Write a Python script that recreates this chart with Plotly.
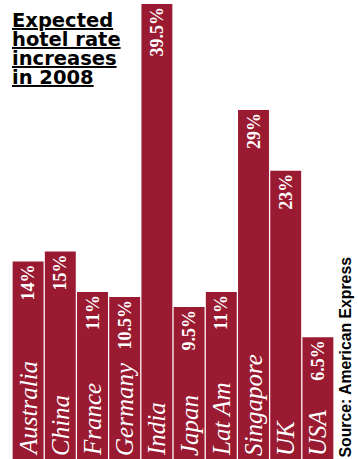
import plotly.graph_objects as go

categories = ["Australia", "China", "France", "Germany", "India", "Japan",
              "Lat Am", "Singapore", "UK", "USA"]
values = [14, 15, 11, 10.5, 39.5, 9.5, 11, 29, 23, 6.5]
value_labels = ["14%", "15%", "11%", "10.5%", "39.5%", "9.5%", "11%", "29%", "23%", "6.5%"]
title_lines = ["Expected", "hotel rate", "increases", "in 2008"]
source_text = "Source: American Express"

BAR_COLOR = "#9a1a31"
SCALE = 10.1          # px per percentage point
BASE = -56 / SCALE    # bars start below zero, as in the infographic
W, H = 358, 459
ML, MR = 12, 24

heights = [v - BASE for v in values]

fig = go.Figure()
fig.add_trace(go.Bar(
    x=categories, y=heights, base=BASE,
    marker=dict(color=BAR_COLOR, line=dict(width=0)),
    text=categories, textposition="inside", insidetextanchor="start",
    textangle=-90, constraintext="none",
    textfont=dict(family="Liberation Serif", size=25, color="white", style="italic"),
    hoverinfo="skip", showlegend=False,
))
fig.add_trace(go.Bar(
    x=categories, y=heights, base=BASE,
    marker=dict(color="rgba(0,0,0,0)", line=dict(width=0)),
    text=value_labels, textposition="inside", insidetextanchor="end",
    textangle=-90, constraintext="none",
    textfont=dict(family="Liberation Serif", size=18, color="white", weight="bold"),
    hoverinfo="skip", showlegend=False,
))

pw = W - ML - MR
annotations = []
for i, (line, cy) in enumerate(zip(title_lines, [20, 39, 58, 77])):
    annotations.append(dict(
        text="<u>" + line + "</u>", x=(10 - ML) / pw, y=1 - cy / H,
        xref="paper", yref="paper", xanchor="left", yanchor="middle",
        showarrow=False,
        font=dict(family="DejaVu Sans", size=19.5, color="black", weight="bold"),
    ))
annotations.append(dict(
    text=source_text, x=(345 - ML) / pw, y=0, xref="paper", yref="paper",
    xanchor="center", yanchor="bottom", textangle=-90, showarrow=False,
    font=dict(family="Liberation Sans", size=15.8, color="black", weight="bold"),
))

fig.update_layout(
    width=W, height=H,
    margin=dict(l=ML, r=MR, t=0, b=0),
    paper_bgcolor="white", plot_bgcolor="white",
    barmode="overlay", bargap=0.04,
    xaxis=dict(visible=False),
    yaxis=dict(visible=False, range=[BASE, BASE + H / SCALE]),
    annotations=annotations,
)
fig.write_html("out.html")
